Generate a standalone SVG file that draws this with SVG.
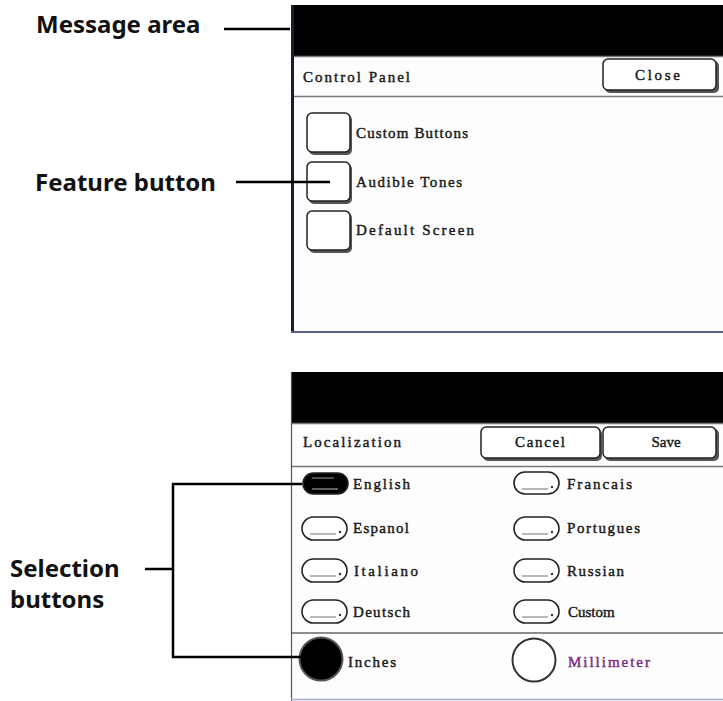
<svg xmlns="http://www.w3.org/2000/svg" width="723" height="701" viewBox="0 0 723 701">
<style>
.lbl{font-family:"Noto Sans","Open Sans",sans-serif;font-weight:bold;font-size:24px;fill:#111}
.ui{font-family:"Liberation Serif","Times New Roman",serif;font-size:15px;fill:#1a1a1a;stroke:#1a1a1a;stroke-width:0.45}
.ctr{text-anchor:middle}
.lead{stroke:#000;stroke-width:2.5;fill:none}
.btn{fill:#fff;stroke:#222;stroke-width:1.5}
.shd{fill:#555}
.ov{fill:#fff;stroke:#222;stroke-width:1.6}
.ovsel{fill:#000;stroke:#222;stroke-width:1.6}
.hl{stroke:#888;stroke-width:1.2}
.sep{stroke:#777;stroke-width:1.3}
</style>

<g id="panel-control">
  <rect x="291" y="5" width="432" height="328" fill="#fdfdfd"/>
  <rect x="291" y="5" width="432" height="51" fill="#000"/>
  <line class="sep" x1="291" y1="56.5" x2="723" y2="56.5"/>
  <line class="sep" x1="291" y1="96.5" x2="723" y2="96.5"/>
  <line x1="292.5" y1="5" x2="292.5" y2="333" stroke="#1c1c30" stroke-width="3"/>
  <line x1="291" y1="332" x2="723" y2="332" stroke="#5a5e8a" stroke-width="2"/>
  <text class="ui" x="303" y="82" textLength="107" lengthAdjust="spacing">Control Panel</text>
</g>

<g id="btn-close">
  <rect class="shd" x="605" y="61" width="114" height="32" rx="5"/>
  <rect class="btn" x="603" y="59" width="113" height="31" rx="5"/>
  <text class="ui" x="635" y="80" textLength="45" lengthAdjust="spacing">Close</text>
</g>

<g id="feature-custom-buttons">
  <rect class="shd" x="309" y="115" width="43" height="40" rx="5"/>
  <rect class="btn" x="307" y="113" width="43" height="39" rx="5"/>
  <text class="ui" x="356" y="138" textLength="112" lengthAdjust="spacing">Custom Buttons</text>
</g>
<g id="feature-audible-tones">
  <rect class="shd" x="309" y="164" width="43" height="40" rx="5"/>
  <rect class="btn" x="307" y="162" width="43" height="39" rx="5"/>
  <text class="ui" x="356" y="187" textLength="106" lengthAdjust="spacing">Audible Tones</text>
</g>
<g id="feature-default-screen">
  <rect class="shd" x="309" y="213" width="43" height="40" rx="5"/>
  <rect class="btn" x="307" y="211" width="43" height="39" rx="5"/>
  <text class="ui" x="356" y="235" textLength="118" lengthAdjust="spacing">Default Screen</text>
</g>

<g id="panel-localization">
  <rect x="291" y="372" width="432" height="329" fill="#fdfdfd"/>
  <rect x="291" y="372" width="432" height="51" fill="#000"/>
  <line class="sep" x1="291" y1="423.5" x2="723" y2="423.5"/>
  <line class="sep" x1="291" y1="466.5" x2="723" y2="466.5"/>
  <line x1="291" y1="633" x2="723" y2="633" stroke="#666" stroke-width="1.6"/>
  <line x1="291.5" y1="372" x2="291.5" y2="701" stroke="#555" stroke-width="1.2"/>
  <line x1="291" y1="699.5" x2="723" y2="699.5" stroke="#a8acd0" stroke-width="1.5"/>
  <text class="ui" x="303" y="447" textLength="98" lengthAdjust="spacing">Localization</text>
</g>

<g id="btn-cancel">
  <rect class="shd" x="483" y="429" width="119" height="32" rx="5"/>
  <rect class="btn" x="481" y="427" width="119" height="31" rx="5"/>
  <text class="ui" x="515" y="447" textLength="50" lengthAdjust="spacing">Cancel</text>
</g>
<g id="btn-save">
  <rect class="shd" x="605" y="429" width="114" height="32" rx="5"/>
  <rect class="btn" x="603" y="427" width="113" height="31" rx="5"/>
  <text class="ui ctr" x="666" y="447">Save</text>
</g>

<g id="opt-english">
  <rect class="ovsel" x="303" y="473" width="45" height="21" rx="10.5"/>
  <line x1="312" y1="478" x2="334" y2="478" stroke="#999" stroke-width="1"/>
  <line x1="312" y1="489" x2="338" y2="489" stroke="#999" stroke-width="1.2"/>
  <text class="ui" x="353" y="489" textLength="57" lengthAdjust="spacing">English</text>
</g>
<g id="opt-francais">
  <rect class="ov" x="514" y="472" width="45" height="22" rx="11"/>
  <line class="hl" x1="522" y1="489" x2="548" y2="489"/>
  <circle cx="552" cy="487" r="1.2" fill="#333"/>
  <text class="ui" x="567" y="489" textLength="65" lengthAdjust="spacing">Francais</text>
</g>
<g id="opt-espanol">
  <rect class="ov" x="302" y="517" width="45" height="23" rx="11.5"/>
  <line class="hl" x1="310" y1="534" x2="336" y2="534"/>
  <circle cx="340" cy="532" r="1.2" fill="#333"/>
  <text class="ui" x="353" y="533" textLength="56" lengthAdjust="spacing">Espanol</text>
</g>
<g id="opt-portugues">
  <rect class="ov" x="514" y="517" width="45" height="23" rx="11.5"/>
  <line class="hl" x1="522" y1="534" x2="548" y2="534"/>
  <circle cx="552" cy="532" r="1.2" fill="#333"/>
  <text class="ui" x="567" y="533" textLength="73" lengthAdjust="spacing">Portugues</text>
</g>
<g id="opt-italiano">
  <rect class="ov" x="302" y="559" width="45" height="23" rx="11.5"/>
  <line class="hl" x1="310" y1="576" x2="336" y2="576"/>
  <circle cx="340" cy="574" r="1.2" fill="#333"/>
  <text class="ui" x="354" y="576" textLength="64" lengthAdjust="spacing">Italiano</text>
</g>
<g id="opt-russian">
  <rect class="ov" x="514" y="559" width="45" height="23" rx="11.5"/>
  <line class="hl" x1="522" y1="576" x2="548" y2="576"/>
  <circle cx="552" cy="574" r="1.2" fill="#333"/>
  <text class="ui" x="567" y="576" textLength="57" lengthAdjust="spacing">Russian</text>
</g>
<g id="opt-deutsch">
  <rect class="ov" x="302" y="600" width="45" height="23" rx="11.5"/>
  <line class="hl" x1="310" y1="617" x2="336" y2="617"/>
  <circle cx="340" cy="615" r="1.2" fill="#333"/>
  <text class="ui" x="353" y="617" textLength="57" lengthAdjust="spacing">Deutsch</text>
</g>
<g id="opt-custom">
  <rect class="ov" x="514" y="600" width="45" height="23" rx="11.5"/>
  <line class="hl" x1="522" y1="617" x2="548" y2="617"/>
  <circle cx="552" cy="615" r="1.2" fill="#333"/>
  <text class="ui" x="568" y="617">Custom</text>
</g>
<g id="opt-inches">
  <circle cx="321" cy="659" r="21.5" fill="#000" stroke="#555" stroke-width="2"/>
  <text class="ui" x="348" y="667" textLength="48" lengthAdjust="spacing">Inches</text>
</g>
<g id="opt-millimeter">
  <circle cx="534" cy="660" r="21.5" fill="#fff" stroke="#333" stroke-width="2"/>
  <text class="ui" x="568" y="667" textLength="82" lengthAdjust="spacing" style="fill:#7b2d7b;stroke:#7b2d7b">Millimeter</text>
</g>

<g id="label-message-area"><text class="lbl" x="36" y="33">Message area</text></g>
<g id="label-feature-button"><text class="lbl" x="35" y="191">Feature button</text></g>
<g id="label-selection-buttons">
  <text class="lbl" x="10" y="577">Selection</text>
  <text class="lbl" x="10" y="608">buttons</text>
</g>

<g id="connectors">
  <line class="lead" x1="224" y1="29" x2="290" y2="29"/>
  <line class="lead" x1="236" y1="182" x2="330" y2="182"/>
  <path class="lead" d="M302,484 H173 V657 H302"/>
  <line class="lead" x1="145" y1="569" x2="173" y2="569"/>
</g>
</svg>
